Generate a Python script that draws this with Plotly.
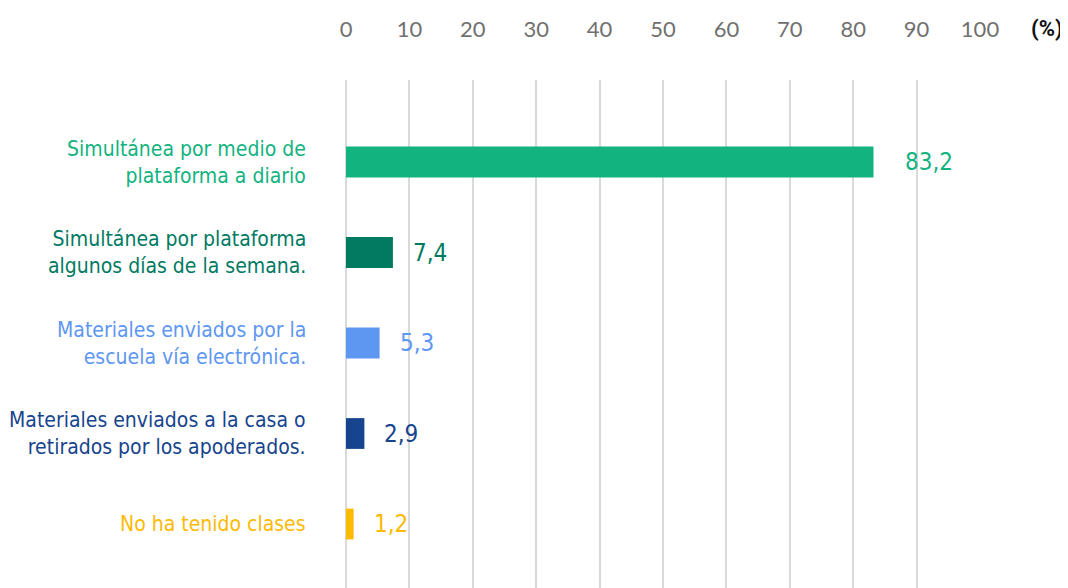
import plotly.graph_objects as go

categories = [
    "Simultánea por medio de<br>plataforma a diario",
    "Simultánea por plataforma<br>algunos días de la semana.",
    "Materiales enviados por la<br>escuela vía electrónica.",
    "Materiales enviados a la casa o<br>retirados por los apoderados.",
    "No ha tenido clases",
]
values = [83.2, 7.4, 5.3, 2.9, 1.2]
colors = ["#13B37F", "#017A62", "#5E97F2", "#17448E", "#FCBA03"]
tick_vals = [0, 10, 20, 30, 40, 50, 60, 70, 80, 90, 100]

label_font = "Liberation Sans Narrow, DejaVu Sans Condensed, Roboto, sans-serif"

fig = go.Figure()
fig.add_trace(go.Bar(
    y=list(range(len(categories))),
    x=values,
    orientation="h",
    marker=dict(color=colors, line=dict(width=0)),
    width=0.34,
    hoverinfo="skip",
))

annotations = []
for i, (cat, v, c) in enumerate(zip(categories, values, colors)):
    annotations.append(dict(
        x=0, y=i, xref="x", yref="y", text=cat, showarrow=False,
        xanchor="right", yanchor="middle", align="right", xshift=-38,
        font=dict(family=label_font, size=21, color=c),
    ))
    annotations.append(dict(
        x=v, y=i, xref="x", yref="y", text=f"{v:.1f}".replace(".", ","),
        showarrow=False, xanchor="left", yanchor="middle",
        xshift=30 if v > 50 else 18,
        font=dict(family=label_font, size=24, color=c),
    ))
annotations.append(dict(
    x=100, y=1, xref="x", yref="paper", text="<b>(%)</b>", showarrow=False,
    xanchor="center", yanchor="middle", xshift=67, yshift=52,
    font=dict(family="Roboto, sans-serif", size=22, color="#111111"),
))

fig.update_layout(
    width=1068, height=588,
    margin=dict(l=338, r=96, t=72, b=8),
    plot_bgcolor="white", paper_bgcolor="white",
    showlegend=False,
    annotations=annotations,
    xaxis=dict(
        range=[0, 100], side="top", tickvals=tick_vals,
        showgrid=True, gridcolor="#D9D9D9", gridwidth=2,
        zeroline=True, zerolinecolor="#D9D9D9", zerolinewidth=2,
        ticklabelstandoff=38, showline=False,
        tickfont=dict(family="Lato, Roboto, sans-serif", size=22, color="#707070"),
    ),
    yaxis=dict(
        range=[4.707, -0.906], showticklabels=False, showgrid=False,
        zeroline=False, showline=False,
    ),
)

fig.write_html("out.html")
